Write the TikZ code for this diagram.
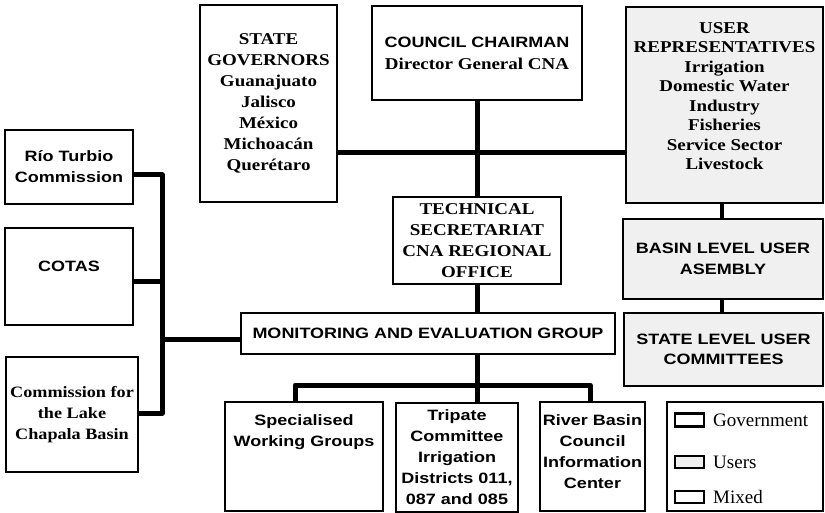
\documentclass[tikz,border=0pt]{standalone}
\usepackage{fontspec}
\setmainfont{Liberation Serif}
\newfontfamily\srf[FakeStretch=1.15]{Liberation Serif}
\newfontfamily\ssf[FakeStretch=1.2]{Liberation Sans}
\begin{document}
\begin{tikzpicture}[x=1pt,y=-1pt,
  base/.style={draw, inner sep=2pt, align=center, text=black},
  govbox/.style={base, line width=2pt, fill=white},
  mixbox/.style={base, line width=1.2pt, fill=white},
  userbox/.style={base, line width=2pt, fill=black!6},
  sertext/.style={font=\srf\bfseries\fontsize{16.5}{21}\selectfont, align=center},
  santext/.style={font=\ssf\bfseries\fontsize{15}{21}\selectfont, align=center},
  plain/.style={inner sep=0pt, align=center},
  conn/.style={line width=5pt, line join=round},
  uconn/.style={line width=4.5pt}
]
\useasboundingbox (0,0) rectangle (825,513);
\fill[white] (0,0) rectangle (825,513);

% top row
\node[govbox, sertext, minimum width=137pt, minimum height=197pt] (sg) at (268.5,103.5)
  {STATE\\GOVERNORS\\Guanajuato\\Jalisco\\México\\Michoacán\\Querétaro};
\node[govbox, minimum width=210pt, minimum height=94pt, font=\fontsize{15}{22}\selectfont] (cc) at (477,53)
  {{\ssf\bfseries COUNCIL CHAIRMAN}\\{\srf\bfseries\fontsize{16.5}{22}\selectfont Director General CNA}};
\node[userbox, minimum width=197pt, minimum height=196pt] (ur) at (724.5,105) {};
\node[plain, font=\srf\bfseries\fontsize{16.5}{19.5}\selectfont] (urt) at (724.5,96)
  {USER\\REPRESENTATIVES\\Irrigation\\Domestic Water\\Industry\\Fisheries\\Service Sector\\Livestock};

% users column
\node[userbox, santext, minimum width=200pt, minimum height=80pt] (ba) at (723,259)
  {BASIN LEVEL USER\\ASEMBLY};
\node[userbox, santext, minimum width=199pt, minimum height=73pt, font=\ssf\bfseries\fontsize{15}{20}\selectfont] (sl) at (723.5,349.5)
  {STATE LEVEL USER\\COMMITTEES};

% centre
\node[govbox, sertext, minimum width=168pt, minimum height=87pt] (ts) at (477,240.5)
  {TECHNICAL\\SECRETARIAT\\CNA REGIONAL\\OFFICE};
\node[mixbox, santext, minimum width=374pt, minimum height=41pt] (mon) at (428,333.5)
  {MONITORING AND EVALUATION GROUP};

% bottom row
\node[mixbox, minimum width=158pt, minimum height=109pt] (sw) at (304,456.5) {};
\node[plain, santext] (swt) at (304,432.5) {Specialised\\Working Groups};
\node[mixbox, santext, minimum width=122pt, minimum height=109pt] (tp) at (457,457.5)
  {Tripate\\Committee\\Irrigation\\Districts 011,\\087 and 085};
\node[govbox, minimum width=105pt, minimum height=109pt] (rb) at (592.5,456.5) {};
\node[plain, santext] (rbt) at (592.5,452) {River Basin\\Council\\Information\\Center};

% left column
\node[mixbox, santext, minimum width=128pt, minimum height=74pt] (rt) at (69,167)
  {Río Turbio\\Commission};
\node[mixbox, minimum width=128pt, minimum height=97pt] (co) at (69,276.5) {};
\node[plain, santext] (cot) at (69,266) {COTAS};
\node[mixbox, sertext, font=\srf\bfseries\fontsize{15.8}{21}\selectfont, minimum width=132pt, minimum height=115pt] (cl) at (72,414.5)
  {Commission for\\the Lake\\Chapala Basin};

% legend
\node[base, line width=1.5pt, minimum width=156pt, minimum height=109pt] (lg) at (745,456.5) {};
\node[draw, line width=2.2pt, minimum width=29pt, minimum height=13pt, inner sep=0pt] (lgg) at (689.5,420) {};
\node[draw, line width=2.6pt, fill=black!6, minimum width=29pt, minimum height=12pt, inner sep=0pt] (lgu) at (689.5,462) {};
\node[draw, line width=1.3pt, minimum width=29pt, minimum height=12pt, inner sep=0pt] (lgm) at (689.5,497) {};
\node[anchor=west, inner sep=0pt, font=\fontsize{19}{20}\selectfont] (lggt) at (713,420) {Government};
\node[anchor=west, inner sep=0pt, font=\fontsize{19}{20}\selectfont] (lgut) at (713,462) {Users};
\node[anchor=west, inner sep=0pt, font=\fontsize{19}{20}\selectfont] (lgmt) at (713,497) {Mixed};

% junction coordinates
\coordinate (hj) at (477,153);
\coordinate (lbtop) at (162,175);
\coordinate (lbcot) at (162,282);
\coordinate (lbmon) at (162,339);
\coordinate (lbbot) at (162,413);
\coordinate (busl) at (295,385);
\coordinate (busm) at (477,385);
\coordinate (busr) at (590,385);
\coordinate (ux) at (722,0);

% connectors
\draw[conn] (sg.east |- hj) -- (ur.west |- hj);
\draw[conn] (cc.south) -- (ts.north);
\draw[conn] (ts.south) -- (ts.south |- mon.north);
\draw[conn] (mon.south -| busm) -- (busm);
\draw[conn] (sw.north -| busl) -- (busl) -- (busr) -- (rb.north -| busr);
\draw[conn] (busm) -- (tp.north -| busm);
\draw[conn] (rt.east |- lbtop) -- (lbtop) -- (lbbot) -- (cl.east |- lbbot);
\draw[conn] (co.east |- lbcot) -- (lbcot);
\draw[conn] (lbmon) -- (mon.west |- lbmon);
\draw[uconn] (ur.south -| ux) -- (ba.north -| ux);
\draw[uconn] (ba.south -| ux) -- (sl.north -| ux);
\end{tikzpicture}
\end{document}
